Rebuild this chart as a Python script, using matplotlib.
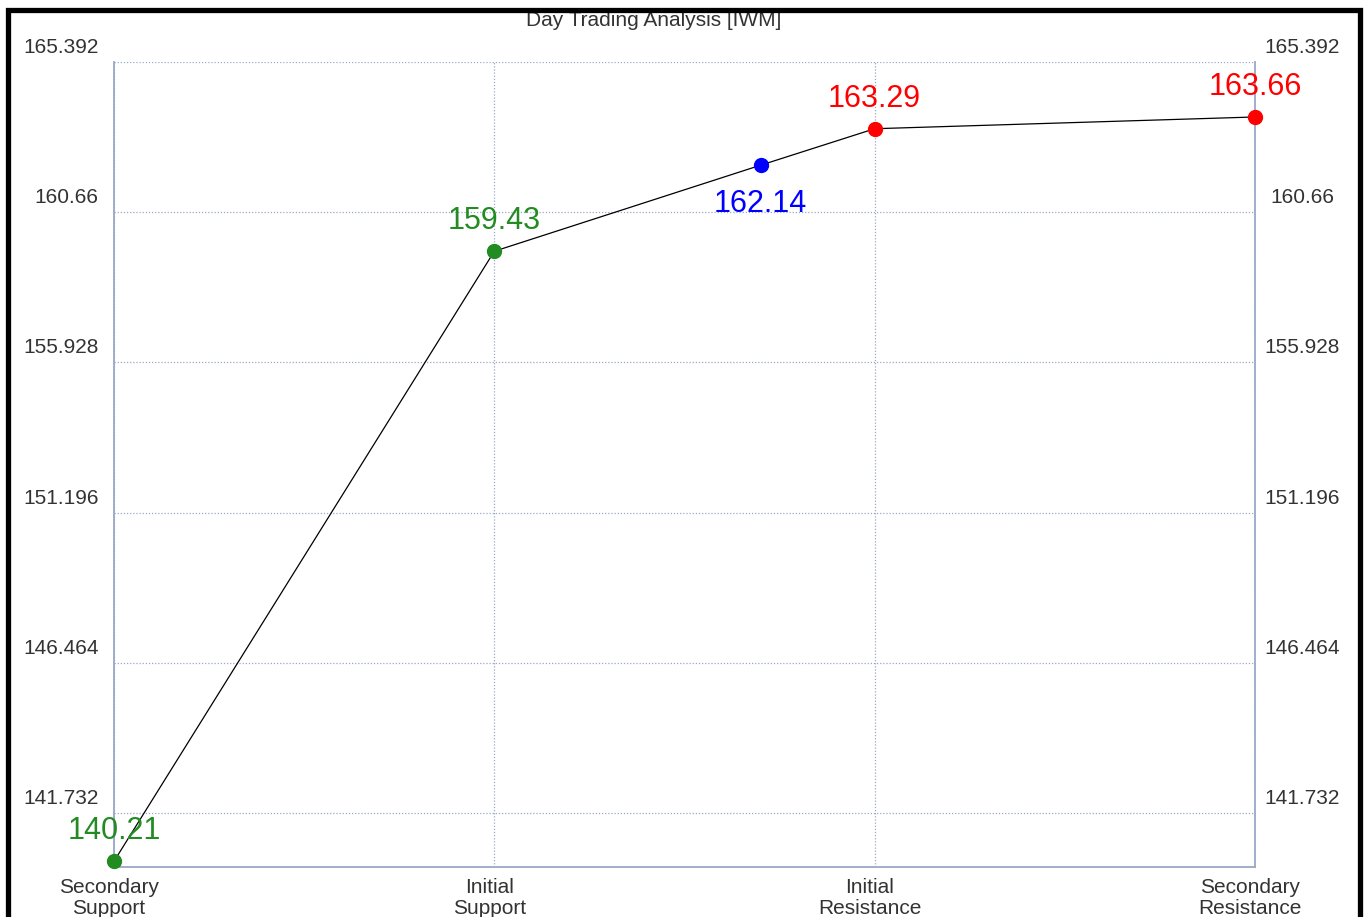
import matplotlib.pyplot as plt
import matplotlib.transforms as mtransforms
from matplotlib.patches import Rectangle

plt.rcParams['font.family'] = ['Liberation Sans', 'DejaVu Sans']

# data
level_names = ["Secondary\nSupport", "Initial\nSupport", "Initial\nResistance", "Secondary\nResistance"]
level_x = [0, 1, 2, 3]
level_values = [140.21, 159.43, 163.29, 163.66]
level_colors = ["#228B22", "#228B22", "#ff0000", "#ff0000"]
current_x = 1.70
current_value = 162.14
y_ticks = [141.732, 146.464, 151.196, 155.928, 160.66, 165.392]
y_min, y_max = 140.03, 165.392

fig = plt.figure(figsize=(13.65, 9.17), dpi=100)
ax = fig.add_axes([114/1365, 1 - 867/917, (1255-114)/1365, (867-62)/917])

# line through all points, in x order
line_x = [0, 1, current_x, 2, 3]
line_y = [level_values[0], level_values[1], current_value, level_values[2], level_values[3]]
ax.plot(line_x, line_y, color="black", lw=0.9, zorder=3, clip_on=False)

for x, v, c in zip(level_x, level_values, level_colors):
    ax.plot(x, v, "o", color=c, ms=10, zorder=4, clip_on=False)
    ax.annotate("%.2f" % v, (x, v), xytext=(0, 21.5), textcoords="offset points",
                ha="center", va="center", fontsize=22, color=c, zorder=5)
ax.plot(current_x, current_value, "o", color="#0000ff", ms=10, zorder=4, clip_on=False)
ax.annotate("%.2f" % current_value, (current_x, current_value), xytext=(0, -28),
            textcoords="offset points", ha="center", va="center", fontsize=22,
            color="#0000ff", zorder=5)

ax.set_xlim(0, 3)
ax.set_ylim(y_min, y_max)

grid_c = "#9aa8c6"
ax.set_yticks(y_ticks)
ax.set_yticklabels([("%.3f" % t).rstrip("0") for t in y_ticks])
ax.set_xticks(level_x)
ax.set_xticklabels(level_names, linespacing=1.1)
ax.grid(True, color=grid_c, ls=(0, (1, 1.5)), lw=0.9)

for s in ["left", "bottom", "right"]:
    ax.spines[s].set_color(grid_c)
    ax.spines[s].set_linewidth(1.3)
ax.spines["top"].set_visible(False)

ax.tick_params(axis="y", length=0, labelsize=15, labelcolor="#333333", pad=11,
               labelright=True)
ax.tick_params(axis="x", length=0, labelsize=15, labelcolor="#333333", pad=8)

# y labels sit above their gridlines
shift_l = mtransforms.ScaledTranslation(0, 9/100, fig.dpi_scale_trans)
shift_r = mtransforms.ScaledTranslation(32/100, 9/100, fig.dpi_scale_trans)
for t in ax.yaxis.get_major_ticks():
    t.label1.set_verticalalignment("baseline")
    t.label1.set_transform(t.label1.get_transform() + shift_l)
    t.label2.set_verticalalignment("baseline")
    t.label2.set_horizontalalignment("center")
    t.label2.set_transform(t.label2.get_transform() + shift_r)
shift_x = mtransforms.ScaledTranslation(-5/100, 0, fig.dpi_scale_trans)
for t in ax.xaxis.get_major_ticks():
    t.label1.set_transform(t.label1.get_transform() + shift_x)

fig.text(654/1365, 1 - 21/917, "Day Trading Analysis [IWM]", ha="center", va="center",
         fontsize=15, color="#333333")

# black frame round the picture
fig.patches.append(Rectangle((7.5/1365, -0.05), (1359.5-7.5)/1365, 1.05 - 9.5/917,
                             transform=fig.transFigure, fill=False, ec="black",
                             lw=3.8, zorder=10))

fig.savefig("out.png", dpi=100)
